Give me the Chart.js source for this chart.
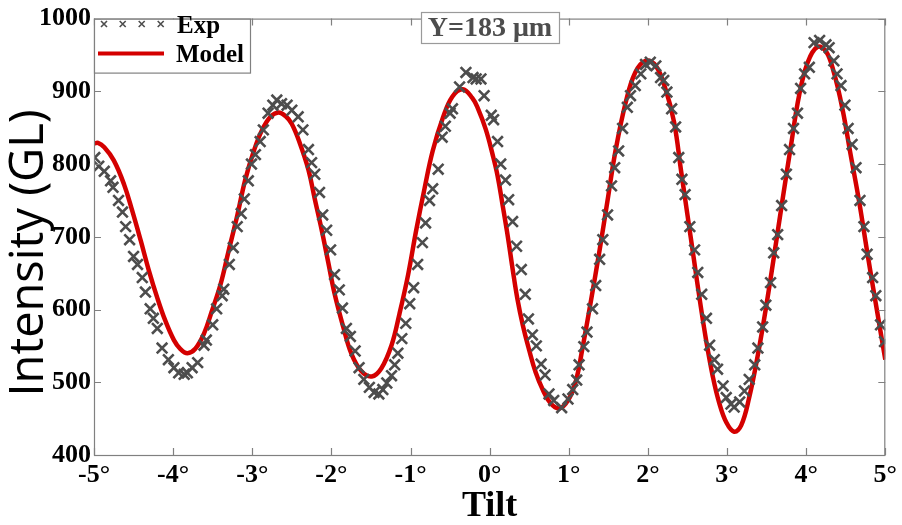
<!DOCTYPE html>
<html>
<head>
<meta charset="utf-8">
<script src="https://cdn.jsdelivr.net/npm/chart.js@4.4.1/dist/chart.umd.min.js"></script>
<style>
html,body{margin:0;padding:0;background:#fff;}
#c{display:block;}
</style>
</head>
<body>
<canvas id="c" width="902" height="525"></canvas>
<script>
const xTicks = [-5,-4,-3,-2,-1,0,1,2,3,4,5];
const yTicks = [400,500,600,700,800,900,1000];

const expX = [-4.99,-4.94,-4.87,-4.79,-4.76,-4.69,-4.64,-4.60,-4.55,-4.50,-4.45,-4.39,-4.35,-4.29,-4.25,-4.20,-4.14,-4.06,-3.99,-3.93,-3.86,-3.82,-3.76,-3.69,-3.61,-3.58,-3.50,-3.45,-3.38,-3.36,-3.29,-3.24,-3.19,-3.14,-3.10,-3.05,-3.01,-2.96,-2.90,-2.86,-2.80,-2.74,-2.69,-2.63,-2.56,-2.50,-2.42,-2.36,-2.29,-2.25,-2.21,-2.15,-2.11,-2.06,-2.01,-1.96,-1.90,-1.86,-1.81,-1.76,-1.70,-1.65,-1.59,-1.52,-1.46,-1.40,-1.35,-1.30,-1.24,-1.20,-1.16,-1.11,-1.06,-1.01,-0.96,-0.91,-0.85,-0.81,-0.76,-0.72,-0.65,-0.60,-0.56,-0.50,-0.47,-0.38,-0.30,-0.21,-0.17,-0.11,-0.07,0.02,0.05,0.10,0.14,0.20,0.24,0.29,0.34,0.40,0.45,0.49,0.54,0.59,0.65,0.70,0.75,0.81,0.91,0.99,1.05,1.10,1.13,1.19,1.23,1.30,1.34,1.39,1.43,1.49,1.54,1.58,1.63,1.68,1.74,1.78,1.84,1.91,1.97,2.03,2.10,2.16,2.20,2.24,2.30,2.35,2.39,2.43,2.47,2.53,2.59,2.63,2.68,2.74,2.78,2.84,2.88,2.95,2.99,3.05,3.09,3.16,3.22,3.28,3.35,3.39,3.45,3.49,3.55,3.59,3.64,3.69,3.75,3.79,3.84,3.89,3.93,3.98,4.04,4.10,4.17,4.25,4.29,4.35,4.39,4.44,4.49,4.53,4.58,4.63,4.68,4.73,4.77,4.84,4.88,4.94,4.99];
const expY = [809,797,790,777,768,750,734,714,696,673,662,644,624,601,588,574,547,531,520,513,511,513,520,527,551,558,579,601,619,628,662,685,714,732,752,777,800,813,831,847,870,881,888,883,881,874,865,847,820,802,786,761,730,709,682,648,627,602,574,563,543,520,504,493,486,484,490,499,509,524,540,560,581,608,630,662,692,719,750,766,793,837,852,870,876,906,926,919,917,917,894,867,861,831,800,778,751,721,687,655,621,587,565,550,525,510,484,475,465,477,490,503,524,549,569,601,633,669,696,730,770,795,818,849,878,894,908,924,937,940,935,919,915,899,876,851,809,779,758,714,682,651,621,588,551,531,518,495,479,470,466,473,488,504,524,547,576,606,637,678,703,743,786,820,849,870,904,924,933,967,970,964,960,942,924,908,881,849,827,795,750,714,676,644,619,579,556];

const modelX = [-5.00,-4.95,-4.87,-4.75,-4.62,-4.52,-4.41,-4.31,-4.20,-4.10,-3.99,-3.91,-3.82,-3.72,-3.61,-3.51,-3.40,-3.30,-3.19,-3.09,-2.98,-2.88,-2.77,-2.67,-2.58,-2.50,-2.40,-2.29,-2.21,-2.12,-2.04,-1.96,-1.85,-1.75,-1.62,-1.49,-1.37,-1.24,-1.14,-1.03,-0.93,-0.82,-0.72,-0.59,-0.47,-0.34,-0.22,-0.15,-0.05,0.04,0.10,0.16,0.23,0.29,0.35,0.42,0.50,0.58,0.67,0.77,0.88,0.99,1.09,1.17,1.28,1.39,1.49,1.59,1.72,1.84,1.97,2.10,2.22,2.33,2.42,2.50,2.58,2.66,2.74,2.82,2.90,2.99,3.09,3.18,3.28,3.39,3.49,3.60,3.70,3.81,3.91,4.02,4.14,4.25,4.35,4.46,4.56,4.67,4.77,4.88,5.00];
const modelY = [828,829,823,805,772,737,695,655,616,585,558,546,540,546,567,598,635,680,729,778,818,846,865,871,866,855,829,792,752,708,665,622,576,540,515,508,519,551,594,648,708,768,818,864,893,903,891,877,848,812,784,746,700,656,615,578,544,514,490,471,464,475,502,545,612,682,750,818,885,926,942,935,904,858,790,730,670,610,555,508,472,445,432,441,479,538,601,678,750,827,894,940,961,955,926,875,814,748,680,608,531];

const seriesNames = ['Exp','Model'];
const annotationText = 'Y=183 \u03BCm';
const yTitle = 'Intensity (GL)';
const xTitle = 'Tilt';

const expColor = '#4d4d4d';
const modelColor = '#d40000';
const frameColor = '#808080';
const serif = '"Liberation Serif", "Times New Roman", serif';

const framePlugin = {
  id: 'framePlugin',
  afterDatasetsDraw(chart) {
    const ctx = chart.ctx;
    const a = chart.chartArea;
    const xs = chart.scales.x, ys = chart.scales.y;
    ctx.save();
    ctx.strokeStyle = frameColor;
    ctx.lineWidth = 1.2;
    ctx.strokeRect(a.left + 0.5, a.top + 0.5, a.right - a.left - 1, a.bottom - a.top);
    const tl = 7;
    ctx.beginPath();
    xTicks.forEach(v => {
      const px = Math.round(xs.getPixelForValue(v)) + 0.5;
      ctx.moveTo(px, a.bottom); ctx.lineTo(px, a.bottom - tl);
      ctx.moveTo(px, a.top); ctx.lineTo(px, a.top + tl);
    });
    yTicks.forEach(v => {
      const py = Math.round(ys.getPixelForValue(v)) + 0.5;
      ctx.moveTo(a.left, py); ctx.lineTo(a.left + tl, py);
      ctx.moveTo(a.right, py); ctx.lineTo(a.right - tl, py);
    });
    ctx.stroke();

    // legend box
    ctx.fillStyle = '#fff';
    ctx.fillRect(a.left + 1, a.top + 1, 156, 53);
    ctx.strokeStyle = frameColor;
    ctx.lineWidth = 1.2;
    ctx.strokeRect(a.left + 0.5, a.top + 0.5, 156, 54);
    ctx.strokeStyle = expColor;
    ctx.lineWidth = 1.6;
    [104, 122.7, 141.7, 160.7].forEach(cx => {
      const cy = 24, r = 3;
      ctx.beginPath();
      ctx.moveTo(cx - r, cy - r); ctx.lineTo(cx + r, cy + r);
      ctx.moveTo(cx - r, cy + r); ctx.lineTo(cx + r, cy - r);
      ctx.stroke();
    });
    ctx.strokeStyle = modelColor;
    ctx.lineWidth = 4;
    ctx.beginPath();
    ctx.moveTo(98, 53.5); ctx.lineTo(164, 53.5);
    ctx.stroke();
    ctx.fillStyle = '#000';
    ctx.font = 'bold 25px ' + serif;
    ctx.textAlign = 'left';
    ctx.textBaseline = 'alphabetic';
    ctx.fillText(seriesNames[0], 177, 33);
    ctx.fillText(seriesNames[1], 176, 62);

    // annotation box
    ctx.fillStyle = '#fff';
    ctx.fillRect(421, 12, 138, 31);
    ctx.strokeStyle = '#9a9a9a';
    ctx.lineWidth = 1.2;
    ctx.strokeRect(421.5, 12.5, 138, 31);
    ctx.fillStyle = '#4d4d4d';
    ctx.font = 'bold 28px ' + serif;
    ctx.textAlign = 'center';
    ctx.fillText(annotationText, 490, 36);

    // x title
    ctx.fillStyle = '#000';
    ctx.font = 'bold 36px ' + serif;
    ctx.textAlign = 'center';
    ctx.textBaseline = 'alphabetic';
    ctx.fillText(xTitle, (a.left + a.right) / 2, 516);

    // y title
    ctx.translate(43, 253);
    ctx.rotate(-Math.PI / 2);
    ctx.font = '47px "Open Sans", "Noto Sans", sans-serif';
    ctx.fillText(yTitle, 0, 0);
    ctx.restore();
  }
};

const ctx = document.getElementById('c').getContext('2d');
new Chart(ctx, {
  type: 'scatter',
  data: {
    datasets: [
      {
        label: seriesNames[0],
        data: expX.map((x, i) => ({x: x, y: expY[i]})),
        showLine: false,
        pointStyle: 'crossRot',
        pointRadius: 7.5,
        pointBorderWidth: 2.6,
        borderColor: expColor,
        backgroundColor: expColor,
        order: 0
      },
      {
        label: seriesNames[1],
        data: modelX.map((x, i) => ({x: x, y: modelY[i]})),
        showLine: true,
        pointRadius: 0,
        borderColor: modelColor,
        backgroundColor: modelColor,
        borderWidth: 4.5,
        tension: 0.4,
        order: 1
      }
    ]
  },
  options: {
    responsive: false,
    devicePixelRatio: 1,
    animation: false,
    layout: {padding: {top: 12, right: 16, left: 0, bottom: 0}},
    plugins: {legend: {display: false}, tooltip: {enabled: false}},
    scales: {
      x: {
        type: 'linear',
        min: -5, max: 5,
        afterBuildTicks: s => { s.ticks = xTicks.map(v => ({value: v})); },
        afterFit: s => { s.height = 70; },
        grid: {display: false, drawTicks: false},
        border: {display: false},
        ticks: {
          callback: v => String(v) + '\u00B0',
          color: '#000',
          padding: 5,
          maxRotation: 0,
          autoSkip: false,
          font: {family: serif, weight: 'bold', size: 26}
        },
        title: {display: false}
      },
      y: {
        type: 'linear',
        min: 400, max: 1000,
        afterBuildTicks: s => { s.ticks = yTicks.map(v => ({value: v})); },
        afterFit: s => { s.width = 94; },
        grid: {display: false, drawTicks: false},
        border: {display: false},
        ticks: {
          callback: v => String(v),
          color: '#000',
          padding: 3,
          autoSkip: false,
          font: {family: serif, weight: 'bold', size: 26}
        }
      }
    }
  },
  plugins: [framePlugin]
});
</script>
</body>
</html>
